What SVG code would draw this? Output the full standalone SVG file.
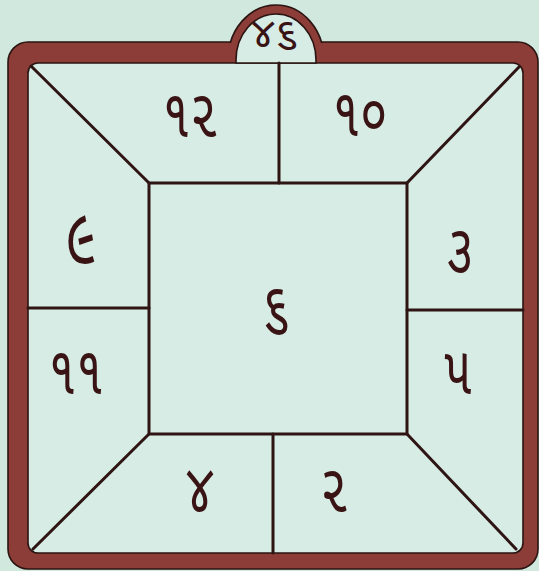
<svg xmlns="http://www.w3.org/2000/svg" width="539" height="571" viewBox="0 0 539 571">
<defs>
<clipPath id="above"><rect x="0" y="0" width="539" height="43"/></clipPath>
</defs>
<style>
.bg{fill:#d1e8de}
.frame{fill:#8c3d38;stroke:#2a1512;stroke-width:1.6;fill-rule:evenodd}
.ln{stroke:#2e1513;stroke-width:3;fill:none;stroke-linecap:round}
.t{font-family:"Noto Sans Gujarati","Lohit Gujarati","Shruti","Noto Sans",sans-serif;font-size:50px;fill:#3a1414;text-anchor:middle}
</style>
<rect class="bg" x="0" y="0" width="539" height="571"/>
<g id="frame">
<rect x="28" y="63" width="495" height="490" rx="10" fill="#d7ece5"/>
<path class="frame" d="M28 42 H518 A20 20 0 0 1 538 62 V549 A20 20 0 0 1 518 569 H28 A20 20 0 0 1 8 549 V62 A20 20 0 0 1 28 42 Z M38 63 H513 A10 10 0 0 1 523 73 V543 A10 10 0 0 1 513 553 H38 A10 10 0 0 1 28 543 V73 A10 10 0 0 1 38 63 Z"/>
</g>
<g id="bump">
<path d="M228 60 A48 55 0 0 1 324 60 V62 H228 Z" fill="#8c3d38"/>
<path d="M228 60 A48 55 0 0 1 324 60" fill="none" stroke="#2a1512" stroke-width="1.6" clip-path="url(#above)"/>
<path d="M236 63 V60 A40 46 0 0 1 316 60 V63 Z" fill="#d7ece5" stroke="#2a1512" stroke-width="1.6"/>
<text class="t" x="275" y="47" style="font-size:42px">૪૬</text>
</g>
<g id="connectors">
<rect class="ln" x="149" y="183" width="258" height="251"/>
<line class="ln" x1="31" y1="66" x2="149" y2="183"/>
<line class="ln" x1="519" y1="67" x2="407" y2="183"/>
<line class="ln" x1="407" y1="434" x2="516" y2="549"/>
<line class="ln" x1="149" y1="434" x2="33" y2="549"/>
<line class="ln" x1="279" y1="63" x2="279" y2="183"/>
<line class="ln" x1="273" y1="434" x2="273" y2="553"/>
<line class="ln" x1="28" y1="308" x2="149" y2="308"/>
<line class="ln" x1="407" y1="310" x2="523" y2="310"/>
</g>
<g id="h12"><text class="t" transform="translate(190 137) scale(1 1.35)">૧૨</text></g>
<g id="h10"><text class="t" transform="translate(360 136) scale(1 1.35)">૧૦</text></g>
<g id="hL"><text class="t" transform="translate(81 263) scale(1.1 1.6)">૯</text></g>
<g id="h3"><text class="t" transform="translate(460 272) scale(1 1.35)">૩</text></g>
<g id="hC"><text class="t" transform="translate(276 330) scale(1 1.35)">૬</text></g>
<g id="h11"><text class="t" transform="translate(76 394) scale(1 1.35)">૧૧</text></g>
<g id="h5"><text class="t" transform="translate(458 394) scale(1 1.35)">૫</text></g>
<g id="h4"><text class="t" transform="translate(200 511) scale(1 1.35)">૪</text></g>
<g id="h2"><text class="t" transform="translate(334 512) scale(1 1.35)">૨</text></g>
</svg>
